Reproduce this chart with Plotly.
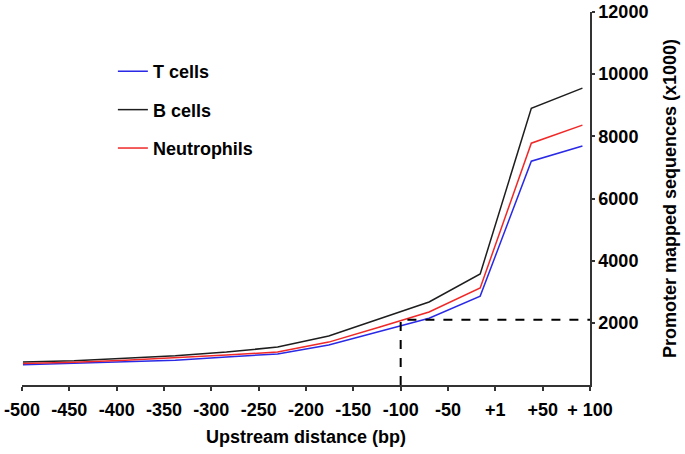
import plotly.graph_objects as go

# Tick labels (upstream distance, bp)
tick_vals = [-500, -450, -400, -350, -300, -250, -200, -150, -100, -50, 0, 50, 100]
tick_text = ["-500", "-450", "-400", "-350", "-300", "-250", "-200", "-150", "-100", "-50", "+1", "+50", "+ 100"]

# Estimated x positions of the data points (bp scale)
x_pos = [-499, -445, -391, -338, -284, -230, -176, -122, -70, -16, 38, 92]

# Promoter mapped sequences (x1000)
t_cells = [650, 700, 750, 800, 900, 1000, 1290, 1730, 2150, 2860, 7200, 7690]
b_cells = [740, 780, 860, 940, 1060, 1220, 1575, 2120, 2670, 3570, 8900, 9550]
neutrophils = [690, 730, 800, 870, 965, 1060, 1380, 1865, 2350, 3120, 7780, 8360]

# Reference cut-off (dashed guide lines)
cut_x = -100
cut_y = 2100
x_max = 100

y_ticks = [2000, 4000, 6000, 8000, 10000, 12000]
y_tick_text = ["2000", "4000", "6000", "8000", "10000", "12000"]

FONT = "Liberation Sans, Arial, sans-serif"
FS = 18

fig = go.Figure()
fig.add_trace(go.Scatter(x=x_pos, y=t_cells, mode="lines", name="T cells",
                         line=dict(color="#2a2ae6", width=1.5), legendgroup="t"))
fig.add_trace(go.Scatter(x=x_pos, y=b_cells, mode="lines", name="B cells",
                         line=dict(color="#1e1e1e", width=1.5), legendgroup="b"))
fig.add_trace(go.Scatter(x=x_pos, y=neutrophils, mode="lines", name="Neutrophils",
                         line=dict(color="#f02828", width=1.5), legendgroup="n"))
fig.add_trace(go.Scatter(x=[cut_x, cut_x, x_max], y=[0, cut_y, cut_y], mode="lines",
                         line=dict(color="black", width=2, dash="dash"),
                         showlegend=False, hoverinfo="skip"))

fig.update_layout(
    width=685, height=454,
    margin=dict(l=22, r=95, t=12, b=69),
    plot_bgcolor="white", paper_bgcolor="white",
    font=dict(family=FONT, size=FS, color="black", weight="bold"),
    legend=dict(x=0.160, y=0.89, xanchor="left", yanchor="top",
                bgcolor="rgba(0,0,0,0)", tracegroupgap=12,
                font=dict(family=FONT, size=FS, color="black", weight="bold"),
                itemwidth=30),
    xaxis=dict(range=[-500, 100], tickmode="array", tickvals=tick_vals, ticktext=tick_text,
               automargin=False, ticklabeloverflow="allow", ticklabelstandoff=4,
               showgrid=False, zeroline=False, showline=True, linecolor="#333", linewidth=1.5,
               ticks="outside", ticklen=4, tickcolor="#333", tickwidth=1.5,
               tickfont=dict(family=FONT, size=FS, color="black", weight="bold"),
               title=dict(text="Upstream distance (bp)", standoff=11,
                          font=dict(family=FONT, size=FS, color="black", weight="bold"))),
    yaxis=dict(range=[0, 12000], side="right", tickmode="array", tickvals=y_ticks,
               ticktext=y_tick_text, automargin=False, ticklabeloverflow="allow",
               showgrid=False, zeroline=False, showline=True, linecolor="#333", linewidth=1.5,
               ticks="outside", ticklen=3, tickcolor="#333", tickwidth=1.5,
               tickfont=dict(family=FONT, size=FS, color="black", weight="bold"),
               title=dict(text="Promoter mapped sequences (x1000)", standoff=16,
                          font=dict(family=FONT, size=FS, color="black", weight="bold"))),
)

fig.write_html("out.html", config={"displayModeBar": False},
               post_script="document.body.style.margin='0';")
